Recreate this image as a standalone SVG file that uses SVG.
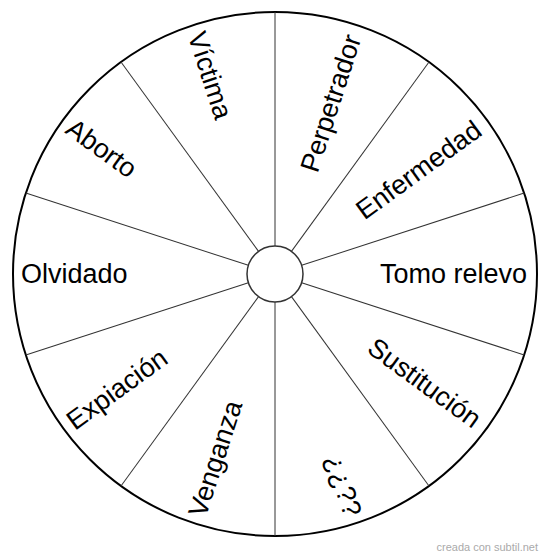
<svg xmlns="http://www.w3.org/2000/svg" width="550" height="559" viewBox="0 0 550 559">
<style>
.lbl{font-family:"Liberation Sans",Arial,sans-serif;font-size:27px;fill:#000}
.s{text-anchor:start}
.e{text-anchor:end}
.spoke{stroke:#333;stroke-width:1}
</style>
<rect width="550" height="559" fill="#fff"/>
<g id="wheel">
<circle cx="275" cy="274" r="262" fill="#fff" stroke="#000" stroke-width="2"/>
</g>
<g id="connectors" transform="translate(275,274)">
<line class="spoke" x1="28" y1="0" x2="262" y2="0" transform="rotate(18)"/>
<line class="spoke" x1="28" y1="0" x2="262" y2="0" transform="rotate(54)"/>
<line class="spoke" x1="28" y1="0" x2="262" y2="0" transform="rotate(90)"/>
<line class="spoke" x1="28" y1="0" x2="262" y2="0" transform="rotate(126)"/>
<line class="spoke" x1="28" y1="0" x2="262" y2="0" transform="rotate(162)"/>
<line class="spoke" x1="28" y1="0" x2="262" y2="0" transform="rotate(198)"/>
<line class="spoke" x1="28" y1="0" x2="262" y2="0" transform="rotate(234)"/>
<line class="spoke" x1="28" y1="0" x2="262" y2="0" transform="rotate(270)"/>
<line class="spoke" x1="28" y1="0" x2="262" y2="0" transform="rotate(306)"/>
<line class="spoke" x1="28" y1="0" x2="262" y2="0" transform="rotate(342)"/>
</g>
<g id="hub">
<circle cx="275" cy="274" r="28" fill="#fff" stroke="#333" stroke-width="1.5"/>
</g>
<g id="n-tomo" transform="translate(275,274)"><text class="lbl e" x="252" y="9.4">Tomo relevo</text></g>
<g id="n-enfermedad" transform="translate(275,274) rotate(-36)"><text class="lbl e" x="251" y="9.4">Enfermedad</text></g>
<g id="n-perpetrador" transform="translate(275,274) rotate(-72)"><text class="lbl e" x="251" y="9.4">Perpetrador</text></g>
<g id="n-victima" transform="translate(275,274) rotate(72)"><text class="lbl s" x="-254" y="9.4">Víctima</text></g>
<g id="n-aborto" transform="translate(275,274) rotate(36)"><text class="lbl s" x="-254" y="9.4">Aborto</text></g>
<g id="n-olvidado" transform="translate(275,274)"><text class="lbl s" x="-254" y="9.4">Olvidado</text></g>
<g id="n-expiacion" transform="translate(275,274) rotate(-36)"><text class="lbl s" x="-254" y="9.4">Expiación</text></g>
<g id="n-venganza" transform="translate(275,274) rotate(-72)"><text class="lbl s" x="-254" y="9.4">Venganza</text></g>
<g id="n-interrogantes" transform="translate(275,274) rotate(72)"><text class="lbl e" x="254" y="9.4">¿¿??</text></g>
<g id="n-sustitucion" transform="translate(275,274) rotate(36)"><text class="lbl e" x="251" y="9.4">Sustitución</text></g>
<text x="538" y="551" font-family="'Liberation Sans',Arial,sans-serif" font-size="11" fill="#aaa" text-anchor="end">creada con subtil.net</text>
</svg>
